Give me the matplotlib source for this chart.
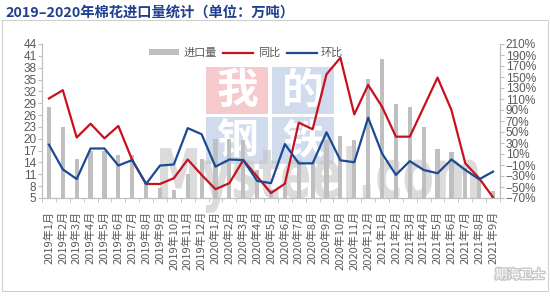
import numpy as np
import matplotlib.pyplot as plt
import matplotlib.patheffects as pe
from matplotlib.patches import Rectangle, PathPatch
from matplotlib.textpath import TextPath
from matplotlib.font_manager import FontProperties
from matplotlib.transforms import Affine2D

plt.rcParams['font.family'] = ['Noto Sans CJK SC', 'DejaVu Sans']

months = [f'{y}年{m}月' for y in (2019, 2020, 2021) for m in range(1, 13)][:33]
# 进口量, 万吨
imports = [28, 23, 14.8, 17, 17, 16, 16, 8.8, 7.5, 7.1, 11, 15,
           20, 20, 19.8, 12, 6.9, 8.8, 14.5, 14, 19.7, 20.6, 19.7, 35.1,
           40.2, 28.8, 28, 22.9, 17.3, 16.6, 12.6, 10.1, 6.8]
# 同比, %
yoy = [111, 126, 40, 65, 38.5, 61, -1, -44.5, -44.5, -34, 0, -28,
       -54, -43, -1, -31, -61, -44, 67, 55, 155, 185, 82, 135.5,
       96, 41.5, 41.5, 95, 149, 90, -7, -34, -69]
# 环比, %
mom = [27, -18, -35.5, 20, 20, -11, -1, -44.5, -11, -9, 57, 46,
       -13, 0, -1, -39, -43, 28, -7, -7, 49.5, -1.5, -5, 76,
       11, -28, -3, -19, -25, 0, -19, -36, -22]

W, H = 550, 297
grey = '#595959'
axis_c = '#BFBFBF'
num_font = ['Liberation Sans', 'DejaVu Sans']

fig = plt.figure(figsize=(W / 100, H / 100), dpi=100)

# outer frame
fig.patches.append(Rectangle((2 / W, 6 / H), 546 / W, 271 / H, transform=fig.transFigure,
                             fill=False, ec='#D0D0D0', lw=0.8, zorder=-2))

fig.text(5 / W, 1 - 13 / H, '2019–2020年棉花进口量统计（单位：万吨）', color='#1F3F8F',
         fontsize=10.3, fontweight='bold', va='center', ha='left')

# watermark blocks
blocks = [('我', 206, '#F4BCC0'), ('的', 272, '#C5D3EA'), ('钢', 206, '#C5D3EA'), ('铁', 272, '#C5D3EA')]
for k, (ch, bx, bc) in enumerate(blocks):
    by = 67 if k < 2 else 117
    fig.patches.append(Rectangle((bx / W, 1 - (by + 47) / H), 62 / W, 47 / H,
                                 transform=fig.transFigure, fc=bc, ec='none', alpha=0.8, zorder=-1))
    fig.text((bx + 31) / W, 1 - (by + 24) / H, ch, color='white', fontsize=30, fontweight='bold',
             ha='center', va='center', zorder=-1)

tp = TextPath((0, 0), 'Mysteel.com', size=1, prop=FontProperties(family='DejaVu Sans', weight='bold'))
ext = tp.get_extents()
sx = 318 / ext.width
sy = 50 / 0.73
tr = Affine2D().translate(-ext.x0, 0).scale(sx / W, sy / H).translate(160 / W, 1 - 198 / H) + fig.transFigure
fig.patches.append(PathPatch(tp, transform=tr, fc='#C4C4C4', ec='none', alpha=0.6, zorder=-1))

ax = fig.add_axes([42 / W, 1 - 198 / H, 458 / W, 154 / H])
ax.patch.set_visible(False)
x = np.arange(len(months))
ax.bar(x, imports, width=0.3, color='#BFBFBF', label='进口量')
ax.set_ylim(5, 44)
ax.set_yticks(np.arange(5, 45, 3))
ax.set_xlim(-0.5, len(months) - 0.5)
ax.set_xticks(x, months, rotation=90, fontsize=8, color=grey)
ax.set_xticks(np.arange(-0.5, len(months)), minor=True)
ax.tick_params(axis='x', which='major', length=0, pad=9)
ax.tick_params(axis='x', which='minor', length=3, color=axis_c)
ax.tick_params(axis='y', length=3, color=axis_c, labelcolor=grey, labelsize=8.5, pad=1)
for lab in ax.get_yticklabels():
    lab.set_family(num_font)

ax2 = ax.twinx()
ax2.plot(x, yoy, color='#C8101E', lw=1.6, label='同比')
ax2.plot(x, mom, color='#1B4A95', lw=1.6, label='环比')
ax2.set_ylim(-70, 210)
ax2.set_yticks(np.arange(-70, 211, 20))
ax2.set_yticklabels([f'{v}%'.replace('-', '\u2212') for v in range(-70, 211, 20)])
ax2.tick_params(axis='y', length=3, color=axis_c, labelcolor=grey, labelsize=8.5, pad=1)
for lab in ax2.get_yticklabels():
    lab.set_family(num_font)

for a in (ax, ax2):
    a.spines['top'].set_visible(False)
    for s in ('left', 'right', 'bottom'):
        a.spines[s].set_color(axis_c)
        a.spines[s].set_linewidth(0.8)

h1, l1 = ax.get_legend_handles_labels()
h2, l2 = ax2.get_legend_handles_labels()
fig.legend(h1 + h2, l1 + l2, loc='center', bbox_to_anchor=(246 / W, 1 - 53 / H), ncol=3,
           frameon=False, fontsize=8, handlelength=2.7, handleheight=0.5, handletextpad=0.4,
           columnspacing=0.6, labelcolor=grey)

fig.text(520 / W, 1 - 275 / H, '期海卫士', color='white', fontsize=9, ha='center', va='center',
         path_effects=[pe.withStroke(linewidth=2, foreground='#C8C8C8')])

fig.savefig('out.png', dpi=100)
